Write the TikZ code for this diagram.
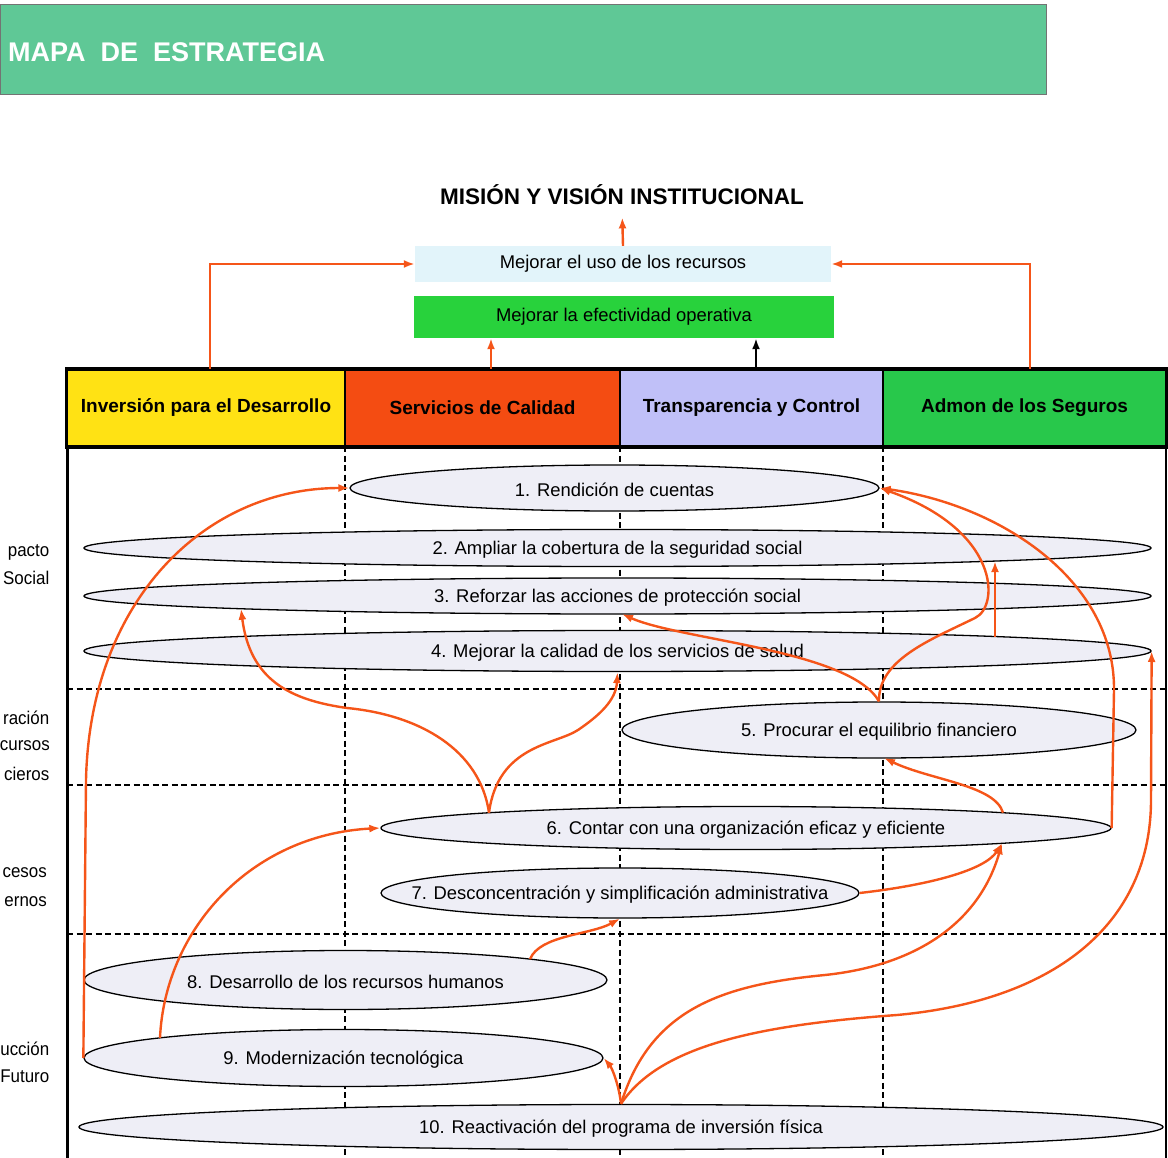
\documentclass[tikz,border=0pt]{standalone}
\usepackage{fontspec}
\setmainfont{Liberation Sans}
\newfontfamily\sidefamily[FakeStretch=0.92]{Liberation Sans}
\usetikzlibrary{shapes.geometric,arrows.meta,calc}

\definecolor{titlegreen}{RGB}{95,200,150}
\definecolor{usefill}{RGB}{226,244,250}
\definecolor{effgreen}{RGB}{40,210,60}
\definecolor{headyellow}{RGB}{255,226,20}
\definecolor{headred}{RGB}{244,76,18}
\definecolor{headblue}{RGB}{192,192,248}
\definecolor{headgreen}{RGB}{40,200,75}
\definecolor{goalfill}{RGB}{238,238,246}
\definecolor{linkred}{RGB}{245,85,25}

\newcommand\goalfont{\fontsize{18.4pt}{20pt}\selectfont}
\newcommand\sidefont{\sidefamily\fontsize{18.4pt}{20pt}\selectfont}
\newcommand\headfont{\fontsize{19pt}{21pt}\selectfont\bfseries}
\newcommand\titlefont{\fontsize{27pt}{30pt}\selectfont\bfseries}
\newcommand\misfont{\fontsize{22.5pt}{25pt}\selectfont\bfseries}

\tikzset{
	goal/.style 2 args={ellipse, draw=black, line width=1.3pt, fill=goalfill,
		minimum width=#1pt, minimum height=#2pt, inner sep=0pt},
	goaltext/.style={font=\goalfont, inner sep=0pt, yshift=-2pt},
	link/.style={draw=linkred, line width=2.4pt, -{Latex[length=11pt,width=8pt]}},
	head/.style={draw=black, line width=2pt, minimum height=76pt, inner sep=0pt, font=\headfont},
	sepline/.style={line width=1.4pt, dash pattern=on 6pt off 3.5pt},
	side/.style={anchor=east, font=\sidefont, inner sep=0pt},
}

\begin{document}
\begin{tikzpicture}[x=1pt, y=1pt]
		\useasboundingbox (0,0) rectangle (1168,-1158);
		% title bar
		\fill[titlegreen, draw=black!55, line width=1pt] (0,-5) rectangle (1046,-95);
		\node[anchor=west, inner sep=0pt, text=white, font=\titlefont] (title) at (8,-52) {MAPA\ \ DE\ \ ESTRATEGIA};
		% mission and goals
		\node[anchor=base, inner sep=2pt, font=\misfont] (m) at (622,-205) {MISIÓN Y VISIÓN INSTITUCIONAL};
		\node[fill=usefill, minimum width=416pt, minimum height=36pt, inner sep=0pt, font=\goalfont] (g1) at (623,-264) {Mejorar el uso de los recursos};
		\node[fill=effgreen, minimum width=420pt, minimum height=42pt, inner sep=0pt, font=\goalfont] (g2) at (624,-317) {Mejorar la efectividad operativa};
		% perspectives
		\node[head, fill=headyellow, minimum width=278pt] (h1) at (206,-408) {Inversión para el Desarrollo};
		\node[head, fill=headred, minimum width=275pt] (h2) at (482.5,-408) {Servicios de Calidad};
		\node[head, fill=headblue, minimum width=263pt] (h3) at (751.5,-408) {Transparencia y Control};
		\node[head, fill=headgreen, minimum width=283pt] (h4) at (1024.5,-408) {Admon de los Seguros};
		\draw[line width=3pt] (h1.north west) rectangle (h4.south east);
		% body frame
		\draw[line width=3pt] (67,-446) -- (67,-1158);
		\draw[line width=1.2pt] (1166,-446) -- (1166,-1158);
		\foreach \x in {345,620,883}
			\draw[sepline] (\x,-446) -- (\x,-1158);
		\foreach \y in {689,785,934}
			\draw[sepline] (67,-\y) -- (1166,-\y);
		% side labels
		\node[side] (s1) at (49.5,-552) {pacto};
		\node[side] (s2) at (49.5,-578) {Social};
		\node[side] (s3) at (49.5,-718) {ración};
		\node[side] (s4) at (50,-746) {cursos};
		\node[side] (s5) at (49.5,-774) {cieros};
		\node[side] (s6) at (47,-873) {cesos};
		\node[side] (s7) at (47,-902) {ernos};
		\node[side] (s8) at (49.5,-1049) {ucción};
		\node[side] (s9) at (49.5,-1076) {Futuro};
		% objectives
		\node[goal={529}{46}, label={[goaltext,name=t1]center:1. Rendición de cuentas}] (e1) at (614.5,-488) {};
		\node[goal={1067}{37}, label={[goaltext,name=t2]center:2. Ampliar la cobertura de la seguridad social}] (e2) at (617.5,-548) {};
		\node[goal={1067}{36}, label={[goaltext,name=t3]center:3. Reforzar las acciones de protección social}] (e3) at (617.5,-596) {};
		\node[goal={1067}{41}, label={[goaltext,name=t4]center:4. Mejorar la calidad de los servicios de salud}] (e4) at (617.5,-651) {};
		\node[goal={514}{56}, label={[goaltext,name=t5]center:5. Procurar el equilibrio financiero}] (e5) at (879,-730) {};
		\node[goal={730}{43}, label={[goaltext,name=t6]center:6. Contar con una organización eficaz y eficiente}] (e6) at (746,-828) {};
		\node[goal={478}{50}, label={[goaltext,name=t7]center:7. Desconcentración y simplificación administrativa}] (e7) at (620,-893) {};
		\node[goal={523}{59}, label={[goaltext,name=t8]center:8. Desarrollo de los recursos humanos}] (e8) at (345.5,-980) {};
		\node[goal={519}{57}, label={[goaltext,name=t9]center:9. Modernización tecnológica}] (e9) at (343.5,-1058) {};
		\node[goal={1084}{45}, label={[goaltext,name=t10]center:10. Reactivación del programa de inversión física}] (e10) at (621,-1127) {};
		% top links
		\draw[link] ([xshift=4pt]h1.north) |- (g1.west);
		\draw[link] ([xshift=5.5pt]h4.north) |- (g1.east);
		\draw[link] ([xshift=8.5pt]h2.north) -- ([xshift=8.5pt]h2.north |- g2.south);
		\draw[link, draw=black] ([xshift=4.5pt]h3.north) -- ([xshift=4.5pt]h3.north |- g2.south);
		\draw[link, shorten >=10pt] (g1.north) -- (m.south);
		% links between objectives
		\draw[link] (e9.west) -- (86,-780) .. controls (90,-600) and (205,-488) .. (e1.west);
		\draw[link] ($(e9)+(-183.5,20.2)$) .. controls (165,-930) and (250,-835) .. (e6.west);
		\draw[link] ($(e6)+(-257,15.3)$) .. controls (480,-750) and (420,-715) .. (347,-708)
			.. controls (290,-700) and (250,-680) .. ($(e3)+(-376.5,-12.7)$);
		\draw[link] ($(e6)+(-257,15.3)$) .. controls (498,-745) and (555,-745) .. (578,-730)
			.. controls (600,-715) and (616,-700) .. (e4.south);
		\draw[link] (e7.east) .. controls (930,-885) and (985,-870) .. ($(e6)+(256,-15.3)$);
		\draw[link] ($(e6)+(257,15.3)$) .. controls (995,-785) and (930,-780) .. ($(e5)+(5,-28)$);
		\draw[link] ($(e8)+(184.5,20.9)$) .. controls (540,-935) and (590,-935) .. (e7.south);
		\draw[link] (e10.north) .. controls (619,-1085) and (612,-1068) .. (e9.east);
		\draw[link] (e10.north) .. controls (650,-1010) and (720,-985) .. (825,-975)
			.. controls (920,-965) and (980,-920) .. ($(e6)+(256,-15.3)$);
		\draw[link] (e10.north) .. controls (660,-1045) and (760,-1025) .. (897,-1015)
			.. controls (1060,-1000) and (1151,-920) .. (1151,-800) -- (e4.east);
		\draw[link] (e5.north) .. controls (878,-660) and (930,-640) .. (975,-618)
			.. controls (1000,-606) and (1000,-530) .. (e1.east);
		\draw[link] (e5.north) .. controls (850,-650) and (680,-640) .. ($(e3)+(4.5,-18)$);
		\draw[link] ($(e4)+(377.5,14.5)$) -- ($(e2)+(377.5,-13.1)$);
		\draw[link] (e6.east) -- (1114,-690) .. controls (1115,-580) and (1000,-505) .. (e1.east);
\end{tikzpicture}
\end{document}
